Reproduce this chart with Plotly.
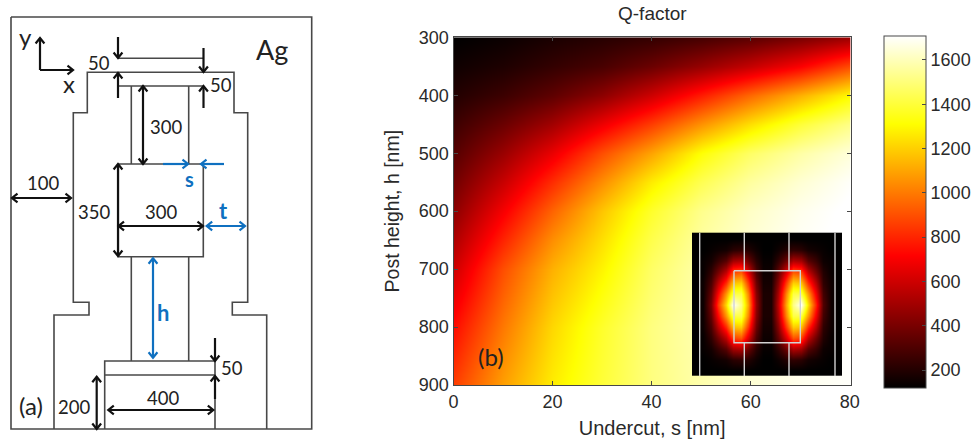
import plotly.graph_objects as go

W, H = 977, 444

# ---------- panel (b) data ----------
undercut = [0, 10, 20, 30, 40, 50, 60, 70, 80]
post_height = [300, 350, 400, 450, 500, 550, 600, 650, 700, 800, 900]
q_factor = [
    [120, 145, 180, 210, 240, 280, 330, 400, 480],
    [155, 190, 240, 290, 370, 470, 580, 710, 890],
    [200, 260, 340, 450, 600, 780, 960, 1130, 1300],
    [260, 370, 500, 680, 860, 1060, 1240, 1400, 1520],
    [320, 480, 670, 900, 1100, 1320, 1470, 1570, 1650],
    [385, 590, 820, 1050, 1270, 1440, 1560, 1640, 1700],
    [450, 700, 950, 1180, 1380, 1530, 1620, 1680, 1720],
    [525, 800, 1050, 1240, 1430, 1560, 1640, 1695, 1720],
    [600, 900, 1130, 1290, 1470, 1580, 1650, 1700, 1720],
    [740, 1000, 1220, 1380, 1510, 1590, 1650, 1690, 1710],
    [860, 1090, 1270, 1400, 1510, 1580, 1640, 1680, 1700],
]
x_ticks = [0, 20, 40, 60, 80]
y_ticks = [300, 400, 500, 600, 700, 800, 900]
cbar_ticks = [200, 400, 600, 800, 1000, 1200, 1400, 1600]
Q_MIN, Q_MAX = 119, 1708

# ---------- inset field ----------
inset_x = [695.75, 703.25, 710.75, 718.25, 725.75, 733.25, 740.75, 748.25, 755.75, 763.25,
           770.75, 778.25, 785.75, 793.25, 800.75, 808.25, 815.75, 823.25, 830.75, 838.25]
inset_y = [238.2, 249.2, 260.2, 271.2, 282.2, 293.2, 304.2, 315.2, 326.2, 337.2, 348.2, 359.2, 370.2]
inset_z = [
    [0, 0, 0, 0, 0, 0, 0, 0, 0, 0, 0, 0, 0, 0, 0, 0, 0, 0, 0, 0],
    [0, 0, 1, 2, 3, 6, 7, 5, 2, 0, 0, 2, 5, 7, 6, 3, 2, 1, 0, 0],
    [0, 1, 3, 8, 13, 24, 26, 16, 6, 1, 1, 7, 16, 26, 24, 13, 8, 2, 1, 0],
    [0, 1, 7, 17, 28, 47, 50, 32, 11, 2, 2, 14, 32, 50, 47, 28, 16, 5, 1, 0],
    [0, 2, 11, 28, 44, 66, 68, 46, 16, 3, 3, 20, 46, 68, 66, 44, 26, 7, 2, 0],
    [0, 2, 15, 38, 60, 82, 82, 57, 20, 4, 4, 25, 57, 82, 82, 60, 35, 10, 2, 0],
    [0, 2, 18, 46, 70, 100, 88, 62, 22, 4, 4, 28, 62, 88, 100, 70, 42, 12, 2, 0],
    [0, 2, 15, 38, 60, 82, 82, 57, 20, 4, 4, 25, 57, 82, 82, 60, 35, 10, 2, 0],
    [0, 2, 11, 28, 44, 66, 68, 46, 16, 3, 3, 20, 46, 68, 66, 44, 26, 7, 2, 0],
    [0, 1, 7, 17, 28, 47, 50, 32, 11, 2, 2, 14, 32, 50, 47, 28, 16, 5, 1, 0],
    [0, 1, 3, 8, 13, 24, 26, 16, 6, 1, 1, 7, 16, 26, 24, 13, 8, 2, 1, 0],
    [0, 0, 1, 2, 3, 6, 7, 5, 2, 0, 0, 2, 5, 7, 6, 3, 2, 1, 0, 0],
    [0, 0, 0, 0, 0, 0, 0, 0, 0, 0, 0, 0, 0, 0, 0, 0, 0, 0, 0, 0],
]
inset_lines = [
    [(699.7, 232.7), (699.7, 376)],
    [(835, 232.7), (835, 376)],
    [(744.3, 232.7), (744.3, 270.7)],
    [(789, 232.7), (789, 270.7)],
    [(744.3, 342.7), (744.3, 376)],
    [(789, 342.7), (789, 376)],
    [(734, 270.7), (800.3, 270.7), (800.3, 342.7), (734, 342.7), (734, 270.7)],
]

# ---------- schematic (a) ----------
schematic_lines = [
    [(11, 17), (311.7, 17), (311.7, 429), (11, 429), (11, 17)],
    [(54, 429), (54, 315), (89, 315), (89, 302.3), (73.3, 302.3), (73.3, 112.7), (87.3, 112.7), (87.3, 72.3),
     (234, 72.3), (234, 112.7), (247.7, 112.7), (247.7, 302.3), (232.3, 302.3), (232.3, 315), (266.7, 315), (266.7, 429)],
    [(118.3, 86), (203.3, 86)],
    [(131.3, 86), (131.3, 164)],
    [(188.7, 86), (188.7, 164)],
    [(118.3, 164), (203.3, 164), (203.3, 256.7), (118.3, 256.7), (118.3, 164)],
    [(131.3, 256.7), (131.3, 361)],
    [(188.7, 256.7), (188.7, 361)],
    [(104.7, 429), (104.7, 361), (215, 361), (215, 429)],
    [(104.7, 375), (215, 375)],
    [(118, 58.3), (203.5, 58.3)],
]
# x0, y0, x1, y1, two-headed
black_arrows = [
    (40, 70, 40, 38, False),
    (40, 70, 73, 70, False),
    (118, 37, 118, 58, False),
    (203.5, 48, 203.5, 72, False),
    (118, 98, 118, 73, False),
    (203.5, 108, 203.5, 86, False),
    (143, 86, 143, 164, True),
    (12, 198, 71, 198, True),
    (118, 164, 118, 256, True),
    (118.5, 226, 203, 226, True),
    (215, 338, 215, 361, False),
    (215, 399, 215, 376, False),
    (96.7, 376.7, 96.7, 429, True),
    (108.3, 410, 213.3, 410, True),
]
blue_arrows = [
    (163, 164, 188, 164, False),
    (224, 164, 201, 164, False),
    (206.7, 226, 245, 226, True),
    (153, 258.3, 153, 357.7, True),
]
black_labels = [
    ("y", 25, 36, 24), ("x", 69, 83, 24), ("50", 99, 62.7, 18.5), ("50", 220.7, 85, 18.5),
    ("Ag", 272, 49, 27), ("300", 165.7, 127, 18.5), ("100", 43, 182.7, 18.5), ("350", 94, 212, 18.5),
    ("300", 160.7, 212, 18.5), ("50", 231.7, 367.7, 18.5), ("200", 74, 406.7, 18.5), ("400", 163.3, 398.3, 18.5),
    ("(a)", 30.7, 405, 24), ("(b)", 490.7, 356, 24),
]
blue_labels = [("s", 189, 179, 20), ("t", 223, 210.7, 22), ("h", 163.3, 312, 22)]

LINE = "#484848"
BLUE = "#0f70c0"
HOT = [[0, "#000000"], [0.375, "#ff0000"], [0.75, "#ffff00"], [1, "#ffffff"]]


def arrow_path(x0, y0, x1, y1, both, head=5.5):
    dx, dy = x1 - x0, y1 - y0
    n = (dx * dx + dy * dy) ** 0.5
    ux, uy = dx / n, dy / n
    px, py = -uy, ux
    xs, ys = [x0, x1, None], [y0, y1, None]

    def add(tx, ty, sx, sy):
        xs.extend([tx - sx * head + px * head * 0.8, tx, tx - sx * head - px * head * 0.8, None])
        ys.extend([ty - sy * head + py * head * 0.8, ty, ty - sy * head - py * head * 0.8, None])

    add(x1, y1, ux, uy)
    if both:
        add(x0, y0, -ux, -uy)
    return xs, ys


def polylines(paths):
    xs, ys = [], []
    for path in paths:
        for px_, py_ in path:
            xs.append(px_)
            ys.append(py_)
        xs.append(None)
        ys.append(None)
    return xs, ys


def arrows(items):
    xs, ys = [], []
    for a in items:
        ax, ay = arrow_path(*a)
        xs += ax
        ys += ay
    return xs, ys


fig = go.Figure()
fig.add_trace(go.Heatmap(
    x=undercut, y=post_height, z=q_factor, zmin=Q_MIN, zmax=Q_MAX, zsmooth="best",
    colorscale=HOT, hoverinfo="skip",
    colorbar=dict(
        lenmode="pixels", len=352, thicknessmode="pixels", thickness=41.5,
        x=884 / W, xanchor="left", y=1 - 36 / H, yanchor="top", xpad=0, ypad=0,
        outlinecolor=LINE, outlinewidth=1, ticks="inside", ticklen=4, tickcolor=LINE,
        tickvals=cbar_ticks, tickfont=dict(family="Liberation Sans", size=18, color="#2a2a2a"),
    ),
))
fig.add_trace(go.Heatmap(
    x=inset_x, y=inset_y, z=inset_z, zmin=0, zmax=100, zsmooth="best", colorscale=HOT,
    showscale=False, hoverinfo="skip", xaxis="x2", yaxis="y2",
))

ix, iy = polylines(inset_lines)
fig.add_trace(go.Scatter(x=ix, y=iy, mode="lines", line=dict(color="#d2d2d2", width=1.4),
                         xaxis="x2", yaxis="y2", hoverinfo="skip", showlegend=False))
sx, sy = polylines(schematic_lines)
fig.add_trace(go.Scatter(x=sx, y=sy, mode="lines", line=dict(color=LINE, width=1.6),
                         xaxis="x2", yaxis="y2", hoverinfo="skip", showlegend=False))
bx, by = arrows(black_arrows)
fig.add_trace(go.Scatter(x=bx, y=by, mode="lines", line=dict(color="#111111", width=2.2),
                         xaxis="x2", yaxis="y2", hoverinfo="skip", showlegend=False))
cx, cy = arrows(blue_arrows)
fig.add_trace(go.Scatter(x=cx, y=cy, mode="lines", line=dict(color=BLUE, width=2.2),
                         xaxis="x2", yaxis="y2", hoverinfo="skip", showlegend=False))

# inner ticks on the left edge of the colour bar
tx, ty = [], []
for v in cbar_ticks:
    yy = 36 + (Q_MAX - v) / (Q_MAX - Q_MIN) * 352
    tx += [884, 888, None]
    ty += [yy, yy, None]
fig.add_trace(go.Scatter(x=tx, y=ty, mode="lines", line=dict(color=LINE, width=1),
                         xaxis="x2", yaxis="y2", hoverinfo="skip", showlegend=False))

annotations = []
for text, x, y, size in black_labels:
    annotations.append(dict(text=text, x=x, y=y, xref="x2", yref="y2", showarrow=False,
                            font=dict(family="Lato", size=size, color="#222222")))
for text, x, y, size in blue_labels:
    annotations.append(dict(text=f"<b>{text}</b>", x=x, y=y, xref="x2", yref="y2", showarrow=False,
                            font=dict(family="Lato", size=size, color=BLUE)))
annotations.append(dict(text="Q-factor", x=652, y=13, xref="x2", yref="y2", showarrow=False,
                        font=dict(family="Liberation Sans", size=19, color="#2a2a2a")))

axis_font = dict(family="Liberation Sans", size=18, color="#2a2a2a")
fig.update_layout(
    width=W, height=H, margin=dict(l=0, r=0, t=0, b=0, autoexpand=False),
    paper_bgcolor="white", plot_bgcolor="rgba(0,0,0,0)", showlegend=False,
    annotations=annotations,
    xaxis=dict(domain=[453.5 / W, 850.7 / W], range=[0, 80.2], tickvals=x_ticks, ticks="inside",
               ticklen=4, tickcolor=LINE, tickfont=axis_font, showgrid=False, zeroline=False,
               showline=True, linecolor=LINE, linewidth=1, mirror="allticks", anchor="y",
               title=dict(text="Undercut, s [nm]", font=dict(family="Liberation Sans", size=20, color="#2a2a2a"), standoff=10)),
    yaxis=dict(domain=[1 - 385 / H, 1 - 37.3 / H], range=[900, 300], tickvals=y_ticks, ticks="inside",
               ticklen=4, tickcolor=LINE, tickfont=axis_font, showgrid=False, zeroline=False,
               showline=True, linecolor=LINE, linewidth=1, mirror="allticks", anchor="x",
               title=dict(text="Post height, h [nm]", font=dict(family="Liberation Sans", size=19.5, color="#2a2a2a"), standoff=14)),
    xaxis2=dict(domain=[0, 1], range=[0, W], visible=False, anchor="y2", fixedrange=True),
    yaxis2=dict(domain=[0, 1], range=[H, 0], visible=False, anchor="x2", fixedrange=True),
)

fig.write_html("out.html", config=dict(displayModeBar=False),
               post_script="document.body.style.margin='0';")
